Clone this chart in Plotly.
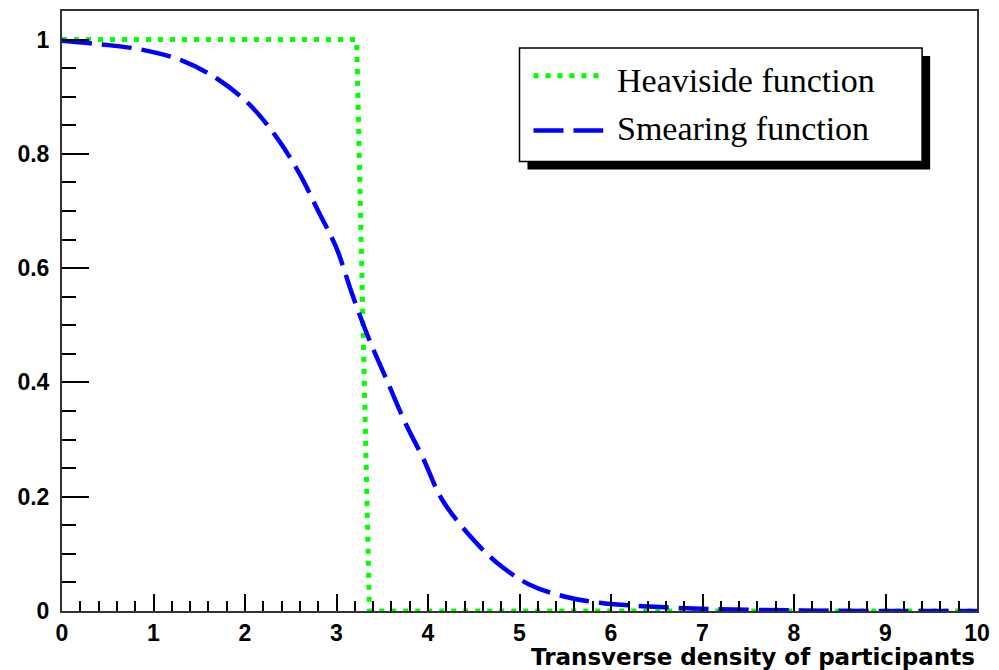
import plotly.graph_objects as go

# ---- data ----
heaviside_x = [0, 3.22, 3.36, 10]
heaviside_y = [1, 1, 0, 0]

smear_x = [0, 0.4, 0.85, 1.3, 1.7, 2.05, 2.35, 2.6, 2.8, 3.0, 3.17, 3.35, 3.55,
           3.75, 3.95, 4.15, 4.45, 4.75, 5.1, 5.5, 5.9, 6.4, 7.0, 8.0, 9.0, 10.0]
smear_y = [0.998, 0.992, 0.983, 0.964, 0.931, 0.886, 0.828, 0.764, 0.700, 0.635,
           0.555, 0.478, 0.404, 0.330, 0.266, 0.196, 0.133, 0.085, 0.047, 0.025,
           0.014, 0.008, 0.004, 0.001, 0.0, 0.0]

legend_labels = ["Heaviside function", "Smearing function"]
x_title = "Transverse density of participants"

GREEN = "#00ff00"
BLUE = "#0000ff"
GREEN_DASH = "5px,7px"
BLUE_DASH = "30px,10px"

fig = go.Figure()
fig.add_trace(go.Scatter(x=heaviside_x, y=heaviside_y, mode="lines", name=legend_labels[0],
                         line=dict(color=GREEN, width=5, dash=GREEN_DASH), showlegend=False))
fig.add_trace(go.Scatter(x=smear_x, y=smear_y, mode="lines", name=legend_labels[1],
                         line=dict(color=BLUE, width=4.5, dash=BLUE_DASH, shape="spline"),
                         showlegend=False))

tickfont = dict(family="Liberation Sans", size=23, color="black", weight="bold")

fig.update_xaxes(range=[0, 10], dtick=1, tick0=0, ticks="inside", ticklen=17, tickwidth=1.5,
                 tickcolor="black", showgrid=False, zeroline=False, showline=True,
                 linecolor="#333333", linewidth=2, mirror=True, tickfont=tickfont,
                 ticklabelstandoff=0,
                 minor=dict(dtick=0.2, tick0=0, ticks="inside", ticklen=10, tickwidth=1.5,
                            tickcolor="black", showgrid=False))
fig.update_yaxes(range=[0, 1.05], dtick=0.2, tick0=0, ticks="inside", ticklen=27, tickwidth=1.5,
                 tickcolor="black", showgrid=False, zeroline=False, showline=True,
                 linecolor="#333333", linewidth=2, mirror=True, tickfont=tickfont,
                 ticklabelstandoff=6,
                 minor=dict(dtick=0.05, tick0=0, ticks="inside", ticklen=14, tickwidth=1.5,
                            tickcolor="black", showgrid=False))

# ---- hand-drawn ROOT-style legend (box, shadow, samples, labels) ----
shapes = [
    dict(type="rect", xref="paper", yref="paper", x0=0.5087, x1=0.9488, y0=0.7359, y1=0.9252,
         fillcolor="black", line=dict(width=0), layer="above"),
    dict(type="rect", xref="paper", yref="paper", x0=0.5, x1=0.940, y0=0.749, y1=0.9385,
         fillcolor="white", line=dict(color="black", width=1.5), layer="above"),
    dict(type="line", xref="paper", yref="paper", x0=0.5153, x1=0.5915, y0=0.892, y1=0.892,
         line=dict(color=GREEN, width=5, dash=GREEN_DASH), layer="above"),
    dict(type="line", xref="paper", yref="paper", x0=0.5153, x1=0.5915, y0=0.8007, y1=0.8007,
         line=dict(color=BLUE, width=4.5, dash=BLUE_DASH), layer="above"),
]
legfont = dict(family="Liberation Serif", size=34, color="black")
annotations = [
    dict(text=legend_labels[0], xref="paper", yref="paper", x=0.6046, y=0.8837,
         xanchor="left", yanchor="middle", showarrow=False, font=legfont),
    dict(text=legend_labels[1], xref="paper", yref="paper", x=0.6046, y=0.8040,
         xanchor="left", yanchor="middle", showarrow=False, font=legfont),
    dict(text=x_title, xref="paper", yref="paper", x=1.0, y=-0.1013,
         xanchor="right", yanchor="bottom", showarrow=False,
         font=dict(family="DejaVu Sans", size=23, color="black", weight="bold")),
]

fig.update_layout(width=999, height=670, margin=dict(l=62, r=19, t=9, b=59),
                  paper_bgcolor="white", plot_bgcolor="white",
                  shapes=shapes, annotations=annotations, showlegend=False)

fig.write_html("out.html")
